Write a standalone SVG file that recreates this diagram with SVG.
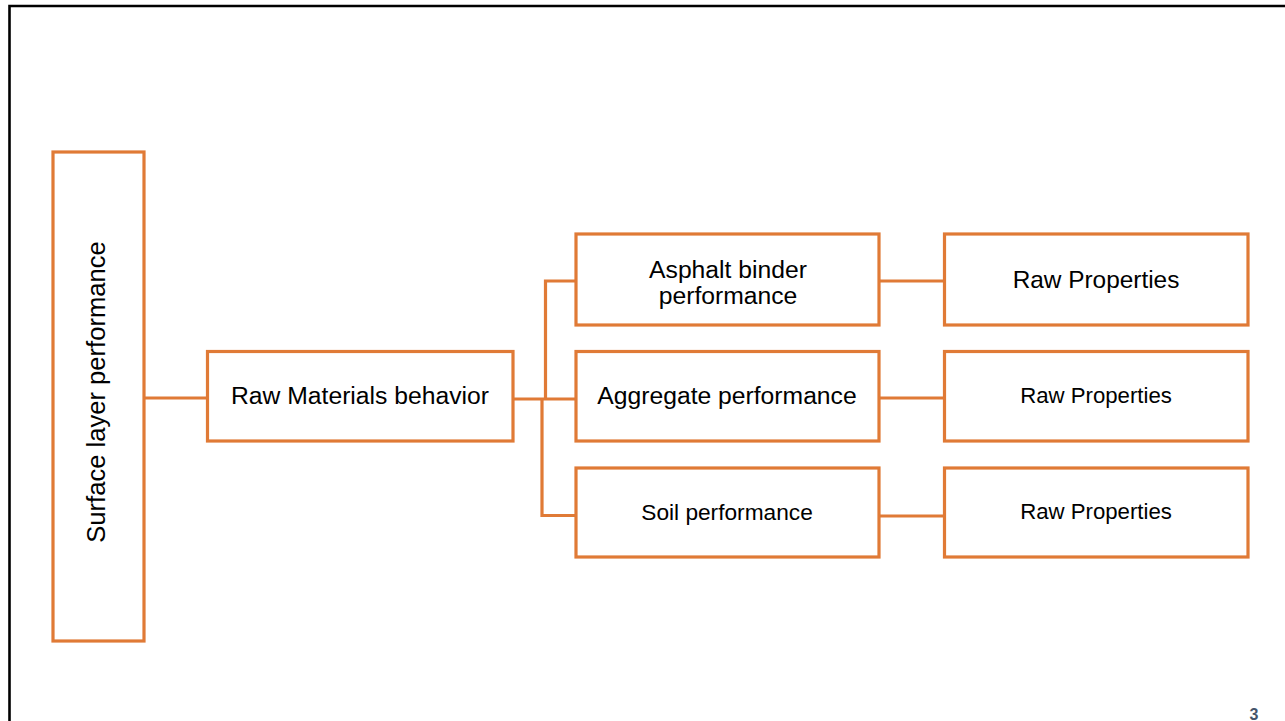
<svg xmlns="http://www.w3.org/2000/svg" width="1285" height="721" viewBox="0 0 1285 721">
<style>
.box{fill:#FFFFFF;stroke:#E07A36;stroke-width:3.2}
.lbl{font-family:"Liberation Sans",Arial,sans-serif;fill:#000000;text-anchor:middle}
.con{fill:none;stroke:#E07A36;stroke-width:3.2}
</style>
<rect width="1285" height="721" fill="#FFFFFF"/>
<path d="M9.5,721 V6 H1285" fill="none" stroke="#000000" stroke-width="2.6"/>
<g id="connectors">
<path class="con" d="M144,398 H207.5" stroke="#C26129"/>
<path class="con" d="M513,399 H576"/>
<path class="con" d="M545.5,399 V281 H576"/>
<path class="con" d="M542,399 V515.5 H576"/>
<path class="con" d="M879,281 H944.5"/>
<path class="con" d="M879,398 H944.5"/>
<path class="con" d="M879,516 H944.5"/>
</g>
<g id="surface">
<rect class="box" x="53" y="152" width="91" height="489"/>
<text class="lbl" font-size="25.6" transform="translate(105,392) rotate(-90)">Surface layer performance</text>
</g>
<g id="raw-materials">
<rect class="box" x="207.5" y="351.5" width="305.5" height="89.5"/>
<text class="lbl" font-size="24.7" x="360" y="404">Raw Materials behavior</text>
</g>
<g id="asphalt">
<rect class="box" x="576" y="234" width="303" height="91"/>
<text class="lbl" font-size="24.7" x="728" y="278">Asphalt binder</text>
<text class="lbl" font-size="24.7" x="728" y="304">performance</text>
</g>
<g id="aggregate">
<rect class="box" x="576" y="351.5" width="303" height="89.5"/>
<text class="lbl" font-size="24.7" x="727" y="404">Aggregate performance</text>
</g>
<g id="soil">
<rect class="box" x="576" y="468" width="303" height="89"/>
<text class="lbl" font-size="22.7" x="727" y="520">Soil performance</text>
</g>
<g id="raw-properties-1">
<rect class="box" x="944.5" y="234" width="303.5" height="91"/>
<text class="lbl" font-size="24.4" x="1096" y="288">Raw Properties</text>
</g>
<g id="raw-properties-2">
<rect class="box" x="944.5" y="351.5" width="303.5" height="89.5"/>
<text class="lbl" font-size="22.2" x="1096" y="403">Raw Properties</text>
</g>
<g id="raw-properties-3">
<rect class="box" x="944.5" y="468" width="303.5" height="89"/>
<text class="lbl" font-size="22.2" x="1096" y="519">Raw Properties</text>
</g>
<text x="1254" y="720" font-family="Liberation Sans,Arial,sans-serif" font-weight="bold" font-size="16" fill="#44546A" text-anchor="middle">3</text>
</svg>
